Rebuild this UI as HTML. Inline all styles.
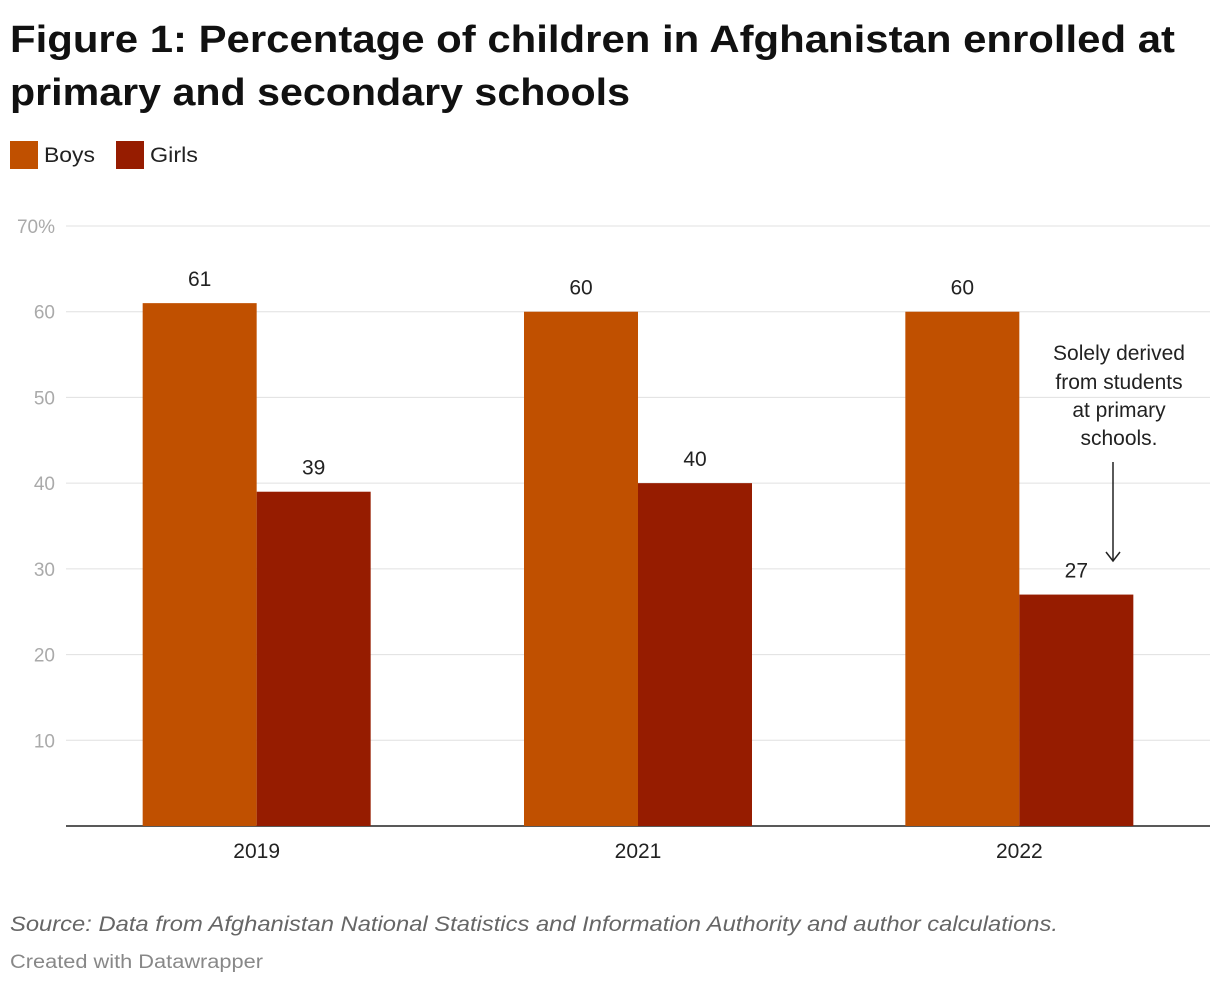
<!DOCTYPE html>
<html><head><meta charset="utf-8"><style>
body{margin:0;background:#fff;width:1220px;height:986px;overflow:hidden;font-family:"Liberation Sans",sans-serif}
</style></head><body>
<svg width="1220" height="986" xmlns="http://www.w3.org/2000/svg">
<g font-weight="bold" font-size="38" fill="#111">
<text x="10" y="52" textLength="1165" lengthAdjust="spacingAndGlyphs">Figure 1: Percentage of children in Afghanistan enrolled at</text>
<text x="10" y="105" textLength="620" lengthAdjust="spacingAndGlyphs">primary and secondary schools</text>
</g>
<g font-size="21" fill="#222">
<rect x="10" y="141" width="28" height="28" fill="#c05000"/>
<text x="44" y="162" textLength="51" lengthAdjust="spacingAndGlyphs">Boys</text>
<rect x="116" y="141" width="28" height="28" fill="#961c00"/>
<text x="150" y="162" textLength="48" lengthAdjust="spacingAndGlyphs">Girls</text>
</g>
<g id="grid"></g><g id="bars"></g>
<g font-size="21" fill="#222" text-anchor="middle">
<text x="1119" y="360">Solely derived</text>
<text x="1119" y="389">from students</text>
<text x="1119" y="417">at primary</text>
<text x="1119" y="445">schools.</text>
<line x1="1113" y1="462" x2="1113" y2="560" stroke="#222" stroke-width="1.5"/>
<path d="M1106,552 L1113,561 L1120,552" fill="none" stroke="#222" stroke-width="1.5"/>
</g>
<text x="10" y="931" font-size="21" font-style="italic" fill="#666" textLength="1048" lengthAdjust="spacingAndGlyphs">Source: Data from Afghanistan National Statistics and Information Authority and author calculations.</text>
<text x="10" y="968" font-size="19" fill="#888" textLength="253" lengthAdjust="spacingAndGlyphs">Created with Datawrapper</text>
</svg>
<script>
const categories=["2019","2021","2022"];
const boys=[61,60,60];
const girls=[39,40,27];
const ticks=[10,20,30,40,50,60,70];
const ns="http://www.w3.org/2000/svg";
const x0=66,x1=1210,yTop=226,yBot=826,vmax=70;
const y=v=>yBot-(yBot-yTop)*v/vmax;
const band=(x1-x0)/categories.length;
const bw=114;
function mk(t,a,p){const e=document.createElementNS(ns,t);for(const k in a)e.setAttribute(k,a[k]);p.appendChild(e);return e;}
const g=document.getElementById('grid'),b=document.getElementById('bars');
ticks.forEach(t=>{
 const l=mk('line',{x1:x0,x2:x1,y1:y(t),y2:y(t),stroke:'#e0e0e0','stroke-width':1},g);
 
 
 const tx=mk('text',{x:55,y:y(t)+7,'text-anchor':'end','font-size':19,fill:'#aaa'},g);
 tx.textContent=t===70?'70%':t;
 
 
});
const ax=mk('line',{x1:x0,x2:x1,y1:yBot,y2:yBot,stroke:'#222','stroke-width':1.5},g);


categories.forEach((c,i)=>{
 const cx=x0+band*(i+0.5);
 [[boys[i],cx-bw,'#c05000','bar-boys-'+c],[girls[i],cx,'#961c00','bar-girls-'+c]].forEach(([v,bx,col,n])=>{
  const r=mk('rect',{x:bx,y:y(v),width:bw,height:yBot-y(v),fill:col},b);
  
  
  const t=mk('text',{x:bx+bw/2,y:y(v)-17,'text-anchor':'middle','font-size':21,fill:'#222'},b);
  t.textContent=v;
  
  
 });
 const lt=mk('text',{x:cx,y:858,'text-anchor':'middle','font-size':21,fill:'#222'},b);
 lt.textContent=c;
 
 
});
</script>
</body></html>
